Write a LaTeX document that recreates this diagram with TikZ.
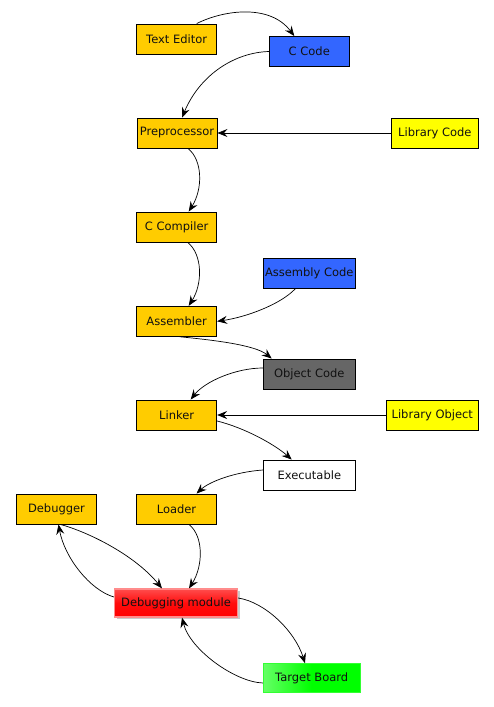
\documentclass[tikz,border=0pt]{standalone}
\usepackage{fontspec}
\setmainfont{DejaVu Sans}
\usetikzlibrary{arrows.meta,shadows,calc}
\definecolor{orng}{HTML}{FFCC00}
\definecolor{blu}{HTML}{3366FF}
\definecolor{yel}{HTML}{FFFF00}
\definecolor{gry}{HTML}{666666}
\definecolor{txt}{HTML}{111111}
\tikzset{
  box/.style={draw=black, line width=0.9pt, minimum height=30pt, inner sep=0pt, font=\fontsize{11.5}{13}\selectfont, text=txt},
  orangebox/.style={box, fill=orng, minimum width=80pt},
  bluebox/.style={box, fill=blu},
  yellowbox/.style={box, fill=yel},
  greybox/.style={box, fill=gry},
  whitebox/.style={box, fill=white},
  redbox/.style={draw=red!45!white, line width=1.2pt, minimum width=123pt, minimum height=28pt, inner sep=0pt,
     top color=red!70!white, bottom color=red, middle color=red!95!white, shading angle=0,
     drop shadow={shadow xshift=2pt, shadow yshift=-2pt, opacity=0.35, fill=black!60},
     font=\fontsize{11.5}{13}\selectfont, text=txt},
  greenbox/.style={draw=green!80!white, line width=0.6pt, minimum width=97pt, minimum height=29pt, inner sep=0pt,
     left color=green!60!white, right color=green, middle color=green,
     font=\fontsize{11.5}{13}\selectfont, text=txt},
  conn/.style={-{Stealth[length=10pt,width=8pt,inset=3.5pt]}, line width=0.7pt, black},
}
\begin{document}
\begin{tikzpicture}[x=1pt,y=-1pt]
\useasboundingbox (0,0) rectangle (493,707);
\node[orangebox] (te) at (176.7,39) {Text Editor};
\node[bluebox, minimum width=80pt] (cc) at (309.3,51.5) {C Code};
\node[orangebox] (pp) at (177,133) {Preprocessor};
\node[yellowbox, minimum width=87pt] (lc) at (434.8,133) {Library Code};
\node[orangebox] (comp) at (176.7,227) {C Compiler};
\node[bluebox, minimum width=92pt] (ac) at (309.3,273.3) {Assembly Code};
\node[orangebox] (asm) at (176.7,321.3) {Assembler};
\node[greybox, minimum width=92pt] (obj) at (309.3,374) {Object Code};
\node[orangebox] (lk) at (176.7,415) {Linker};
\node[yellowbox, minimum width=92pt] (lo) at (432.3,415) {Library Object};
\node[whitebox, minimum width=92pt] (exe) at (309.3,475) {Executable};
\node[orangebox] (dbg) at (56.5,509) {Debugger};
\node[orangebox] (ld) at (176.5,509) {Loader};
\node[redbox] (dm) at (176,603) {Debugging module};
\node[greenbox] (tb) at (311.7,678) {Target Board};

\draw[conn] ([xshift=20pt]te.north) .. controls +(28,-14) and +(-24,-32) .. ([xshift=-15pt]cc.north);
\draw[conn] (cc.west) .. controls +(-34,1) and +(18,-43) .. ([xshift=5pt]pp.north);
\draw[conn] (lc.west) -- (pp.east);
\draw[conn] ([xshift=11pt]pp.south) .. controls +(15,12) and +(14,-22) .. ([xshift=12pt]comp.north);
\draw[conn] ([xshift=11pt]comp.south) .. controls +(15,12) and +(14,-22) .. ([xshift=12pt]asm.north);
\draw[conn] ([xshift=-14pt]ac.south) .. controls +(-15,16) and +(28,-4) .. (asm.east);
\draw[conn] ([xshift=3pt]asm.south) .. controls +(30,3) and +(-17,-14) .. ([xshift=-37.6pt]obj.north);
\draw[conn] ([yshift=6pt]obj.west) .. controls +(-27,0) and +(14,-18) .. ([xshift=14pt]lk.north);
\draw[conn] (lo.west) -- (lk.east);
\draw[conn] ([yshift=-6pt]lk.east) .. controls +(28,7) and +(-17,-15) .. ([xshift=-17.6pt]exe.north);
\draw[conn] ([yshift=5pt]exe.west) .. controls +(-28,2) and +(13,-12) .. ([xshift=20pt]ld.north);
\draw[conn] ([xshift=12.5pt]ld.south) .. controls +(15,12) and +(14,-22) .. ([xshift=13pt]dm.north);
\draw[conn] ([xshift=4pt]dbg.south) .. controls +(29,8) and +(-27,-33) .. ([xshift=-14pt]dm.north);
\draw[conn] ([yshift=6pt]dm.west) .. controls +(-24,-7) and +(6,33) .. ([xshift=2pt]dbg.south);
\draw[conn] ([yshift=5pt]dm.east) .. controls +(27,4) and +(-10,-32) .. ([xshift=-6.7pt]tb.north);
\draw[conn] ([yshift=-5pt]tb.west) .. controls +(-28,-1) and +(8,32) .. ([xshift=6pt]dm.south);
\end{tikzpicture}
\end{document}
